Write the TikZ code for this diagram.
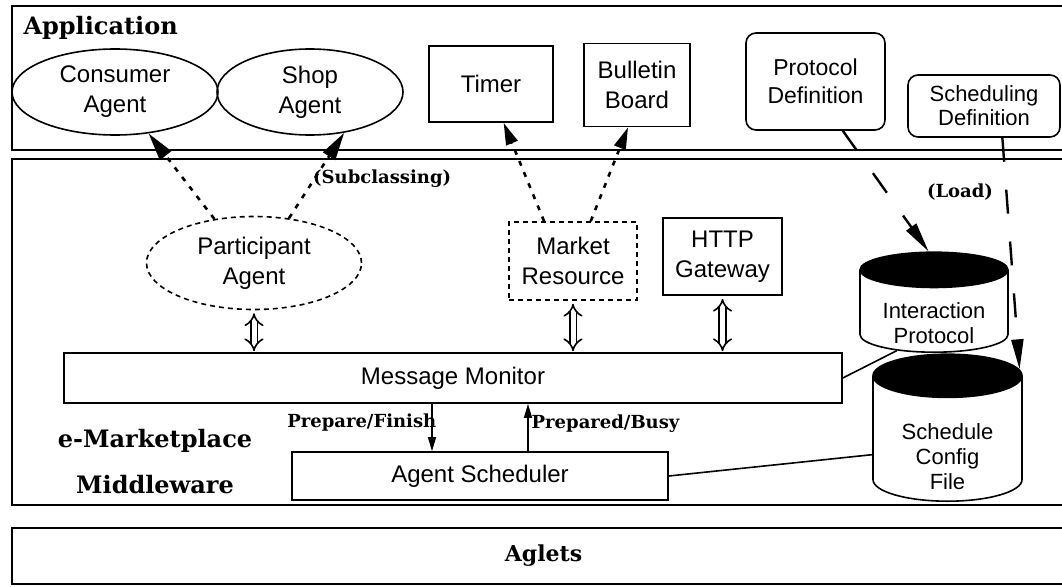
\documentclass[tikz,border=0pt]{standalone}
\usepackage{fontspec}
\setmainfont{Liberation Sans}
\newfontfamily\headfont{DejaVu Serif}
\usetikzlibrary{arrows.meta,shapes.geometric,calc}

\begin{document}
\begin{tikzpicture}[x=1pt,y=-1pt,
	box/.style={draw, line width=1.6pt, align=center, inner sep=2pt, font=\fontsize{24}{30}\selectfont},
	agent/.style={box, ellipse},
	rbox/.style={box, rounded corners=10pt},
	dbox/.style={box, dash pattern=on 5pt off 4pt},
	store/.style={draw, line width=1.6pt, cylinder, shape border rotate=90, text width=140pt, inner sep=2pt, anchor=south, cylinder uses custom fill, cylinder end fill=black, cylinder body fill=white},
	txt/.style={align=center, inner sep=1pt, font=\fontsize{22}{25}\selectfont},
	frame/.style={draw, line width=2pt},
	head/.style={align=center, font=\headfont\bfseries\fontsize{24}{46}\selectfont},
	tag/.style={inner sep=1pt, font=\headfont\bfseries\fontsize{18}{20}\selectfont},
	dep/.style={dash pattern=on 5pt off 7pt, line width=2.6pt, -{Triangle[length=28pt,width=14pt]}},
	load/.style={dash pattern=on 24pt off 28pt, line width=2.4pt, -{Triangle[length=30pt,width=12pt]}},
	link/.style={double distance=5pt, line width=1.6pt, {Implies}-{Implies}, shorten <=3pt, shorten >=1pt},
	call/.style={line width=1.4pt, -{Triangle[length=14pt,width=8pt]}}]
	\useasboundingbox (0,0) rectangle (1062,586);
	\draw[frame] (12,6) rectangle (1075,150);
	\draw[frame] (12,159) rectangle (1075,505);
	\node[frame, head, minimum width=1063pt, minimum height=56pt, font=\headfont\bfseries\fontsize{22}{26}\selectfont] (aglets) at (543.5,556) {Aglets};
	\node[head, anchor=base west] (app) at (20,35) {Application};
	\node[head] (mw) at (155,462) {e-Marketplace\\Middleware};
	\node[agent, minimum width=206pt, minimum height=86pt] (cons) at (115,92) {Consumer\\Agent};
	\node[agent, minimum width=186pt, minimum height=86pt] (shop) at (310,92) {Shop\\Agent};
	\node[box, minimum width=124pt, minimum height=76pt] (timer) at (491,84) {Timer};
	\node[box, minimum width=106pt, minimum height=83pt] (bulletin) at (637,85) {Bulletin\\Board};
	\node[rbox, minimum width=139pt, minimum height=97pt, font=\fontsize{23}{28}\selectfont] (protdef) at (815.5,81.5) {Protocol\\Definition};
	\node[rbox, minimum width=152pt, minimum height=62pt, font=\fontsize{22}{24}\selectfont] (scheddef) at (984,106) {Scheduling\\Definition};
	\node[agent, dash pattern=on 5pt off 4pt, minimum width=215pt, minimum height=93pt] (part) at (254,263) {Participant\\Agent};
	\node[dbox, minimum width=128pt, minimum height=78pt] (market) at (573,261) {Market\\Resource};
	\node[box, minimum width=119pt, minimum height=77pt] (http) at (722.5,256.5) {HTTP\\Gateway};
	\node[store, aspect=0.245, minimum width=148pt, minimum height=100pt] (inter) at (934,353) {};
	\node[store, aspect=0.3, minimum width=149pt, minimum height=147pt] (config) at (947.5,502) {};
	\node[txt] (intertxt) at (934,323) {Interaction\\Protocol};
	\node[txt] (configtxt) at (947.5,457) {Schedule\\Config\\File};
	\node[box, minimum width=778pt, minimum height=50pt] (mm) at (453,378) {Message Monitor};
	\node[box, minimum width=376pt, minimum height=48pt] (sched) at (480,476) {Agent Scheduler};
	\draw[dep] (part.132) -- (cons.-51);
	\draw[dep] (part.52) -- (shop.-50);
	\node[tag, anchor=west] (subcl) at (312,179) {(Subclassing)};
	\draw[dep, -{Triangle[length=22pt,width=12pt]}] (market.126) -- (timer.-72);
	\draw[dep, -{Triangle[length=22pt,width=12pt]}] (market.66) -- (bulletin.-102);
	\draw[load] (protdef.-61) -- (inter.95);
	\draw[load] (scheddef.-60) -- (config.45);
	\node[tag] (ld) at (960,192) {(Load)};
	\draw[link] (part.south) -- (part.south |- mm.north);
	\draw[link] (market.south) -- (market.south |- mm.north);
	\draw[link] (http.south) -- (http.south |- mm.north);
	\draw[call] ($(mm.south)+(-21,0)$) -- node[tag, pos=.4, anchor=east, xshift=6pt] (pf) {Prepare/Finish} ($(sched.north)+(-48,0)$);
	\draw[call] ($(sched.north)+(48,0)$) -- node[tag, pos=.58, anchor=west, xshift=2pt] (pb) {Prepared/Busy} ($(mm.south)+(75,0)$);
	\draw[line width=1.6pt] (mm.east) -- (inter.-135);
	\draw[line width=1.6pt] (sched.east) -- (config.190);
\end{tikzpicture}
\end{document}
